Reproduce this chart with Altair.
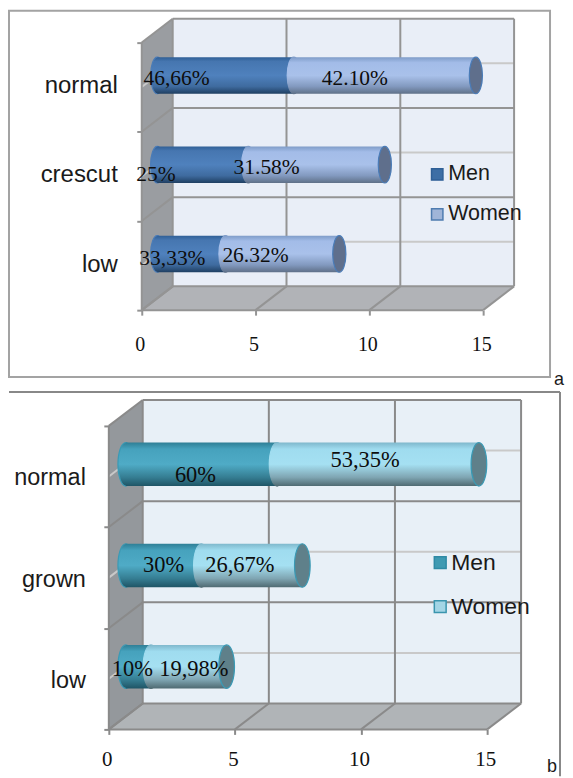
import altair as alt
import pandas as pd

# ---- values ----
series = ["Men", "Women"]
ticks = [0, 5, 10, 15]

cats_a = ["low", "crescut", "normal"]
men_a = [3, 4, 6]
women_a = [5, 6, 8]
men_lab_a = ["33,33%", "25%", "46,66%"]
women_lab_a = ["26.32%", "31.58%", "42.10%"]

cats_b = ["low", "grown", "normal"]
men_b = [1, 3, 6]
women_b = [3, 4, 8]
men_lab_b = ["10%", "30%", "60%"]
women_lab_b = ["19,98%", "26,67%", "53,35%"]


def grad(stops):
    return alt.LinearGradient(
        gradient="linear", x1=0, x2=0, y1=0, y2=1,
        stops=[alt.GradientStop(color=c, offset=o) for o, c in stops],
    )


ELLIPSE = ("M0,-1 C0.2,-1 0.36,-0.55 0.36,0 C0.36,0.55 0.2,1 0,1 "
           "C-0.2,1 -0.36,0.55 -0.36,0 C-0.36,-0.55 -0.2,-1 0,-1 Z")


def panel(cats, men, women, men_lab, women_lab, st):
    w, h = st["w"], st["h"]
    dxu, dyu = st["dxu"], st["dyu"]
    xs = alt.Scale(domain=[st["x_min"], 15 + dxu], nice=False, zero=False)
    ys = alt.Scale(domain=[0, 3 + dyu], nice=False, zero=False)
    xaxis = alt.Axis(
        values=ticks, grid=False, domain=False, tickSize=5, tickColor=st["line"],
        tickWidth=2, labelFont="Liberation Serif", labelFontSize=st["tick_fs"],
        labelColor="#111111", labelPadding=st["tick_pad"], labelAngle=0, title=None,
        labelFlush=False, labelOffset=-2)
    yaxis = alt.Axis(
        values=[0, 1, 2, 3], grid=False, domain=False, labels=False, tickSize=5,
        tickColor=st["line"], tickWidth=2, title=None, offset=st["y_axis_offset"])
    X = lambda f: alt.X(f, type="quantitative", scale=xs, axis=xaxis)
    Y = lambda f: alt.Y(f, type="quantitative", scale=ys, axis=yaxis)
    layers = []

    # walls
    layers.append(alt.Chart(pd.DataFrame({
        "x": [dxu, 15 + dxu], "y": [dyu, dyu], "y2": [3 + dyu, 3 + dyu]}))
        .mark_area(color=st["back"]).encode(x=X("x"), y=Y("y"), y2="y2"))
    layers.append(alt.Chart(pd.DataFrame({
        "x": [0, dxu], "y": [0, dyu], "y2": [3, 3 + dyu]}))
        .mark_area(color=st["side"]).encode(x=X("x"), y=Y("y"), y2="y2"))
    layers.append(alt.Chart(pd.DataFrame({
        "x": [0, dxu, 15, 15 + dxu], "y": [0, 0, 0, dyu], "y2": [0, dyu, dyu, dyu]}))
        .mark_area(color=st["floor"]).encode(x=X("x"), y=Y("y"), y2="y2"))

    # pale lines running behind the bars
    minor, major = [], []

    def seg(lst, x0, y0, x1, y1):
        k = len(lst)
        lst.append({"x": x0, "y": y0, "k": k, "o": 0})
        lst.append({"x": x1, "y": y1, "k": k, "o": 1})

    for i in range(3):
        seg(minor, dxu, i + .5 + dyu, 15 + dxu, i + .5 + dyu)
        seg(minor, 0, i + .5, dxu, i + .5 + dyu)
    for t in [0, 1, 2, 3]:
        seg(major, dxu, t + dyu, 15 + dxu, t + dyu)
        seg(major, 0, t, dxu, t + dyu)
    for v in ticks:
        seg(major, v + dxu, dyu, v + dxu, 3 + dyu)
        seg(major, v, 0, v + dxu, dyu)
    seg(major, 0, 0, 15, 0)
    seg(major, 0, 0, 0, 3)
    layers.append(alt.Chart(pd.DataFrame(minor)).mark_line(color=st["minor"], strokeWidth=2)
                  .encode(x=X("x"), y=Y("y"), detail="k:N", order="o:Q"))
    layers.append(alt.Chart(pd.DataFrame(major)).mark_line(color=st["line"], strokeWidth=st["lw"])
                  .encode(x=X("x"), y=Y("y"), detail="k:N", order="o:Q"))

    # bars
    bh = st["bar_h"]
    rows = []
    for i, (m, f) in enumerate(zip(men, women)):
        c = i + .5 + st["bar_off"]
        rows.append(dict(x0=st["bar_x"], xm=st["bar_x"] + m, xe=st["bar_x"] + m + f,
                         y=c, y0=c - bh, y1=c + bh))
    df = pd.DataFrame(rows)
    point_size = (2 * bh * h / (3 + dyu)) ** 2
    cyl = {"filled": True, "shape": ELLIPSE, "size": point_size, "opacity": 1,
           "strokeWidth": 1.2}
    layers.append(alt.Chart(df).mark_point(fill=st["men_g"], stroke=st["men_edge"], **cyl)
                  .encode(x=X("x0"), y=Y("y")))
    layers.append(alt.Chart(df).mark_rect(fill=st["men_g"])
                  .encode(x=X("x0"), x2="xm", y=Y("y0"), y2="y1"))
    layers.append(alt.Chart(df).mark_rect(fill=st["wom_g"])
                  .encode(x=X("xm"), x2="xe", y=Y("y0"), y2="y1"))
    layers.append(alt.Chart(df).mark_point(fill=st["wom_g"], stroke=st["wom_g"], **cyl)
                  .encode(x=X("xm"), y=Y("y")))
    layers.append(alt.Chart(df).mark_point(fill=st["cap"], stroke=st["men_edge"], **cyl)
                  .encode(x=X("xe"), y=Y("y")))

    # category names
    layers.append(alt.Chart(pd.DataFrame({"c": cats, "y": [i + .5 for i in range(3)]}))
                  .mark_text(font="Liberation Sans", fontSize=st["cat_fs"], align="right",
                             baseline="middle", color="#1a1a1a", dx=st["cat_x"], dy=st["cat_dy"])
                  .encode(x=alt.value(0), y=Y("y"), text="c:N"))

    # value labels: anchored on the segment middle, nudged as in the reference
    for i in range(3):
        c = i + .5 + st["bar_off"]
        m, f = men[i], women[i]
        for val, lab, nudge in [
            (st["bar_x"] + m / 2, men_lab[i], st["men_nudge"][i]),
            (st["bar_x"] + m + f / 2, women_lab[i], st["wom_nudge"][i]),
        ]:
            layers.append(alt.Chart(pd.DataFrame({"x": [val], "y": [c], "t": [lab]}))
                          .mark_text(font="Liberation Serif", fontSize=st["lab_fs"], color="#0d0d0d",
                                     baseline="middle", dx=nudge[0], dy=nudge[1])
                          .encode(x=X("x"), y=Y("y"), text="t:N"))

    # legend
    for name, fill, edge, ly in zip(series, st["leg_fill"], st["leg_edge"], st["leg_y"]):
        d = pd.DataFrame({"t": [name]})
        layers.append(alt.Chart(d).mark_square(size=st["leg_size"], color=fill, stroke=edge,
                                               strokeWidth=1.5, opacity=1)
                      .encode(x=alt.value(st["leg_x"]), y=alt.value(ly)))
        layers.append(alt.Chart(d).mark_text(font="Liberation Sans", fontSize=st["leg_fs"], align="left",
                                             baseline="middle", color="#1a1a1a")
                      .encode(x=alt.value(st["leg_x"] + 11), y=alt.value(ly), text="t:N"))

    # outer frame and panel letter
    fr = st["frame"]
    one = pd.DataFrame({"a": [0]})
    if st["closed"]:
        layers.append(alt.Chart(one).mark_rect(fillOpacity=0, stroke=st["frame_c"], strokeWidth=2)
                      .encode(x=alt.value(fr[0]), x2=alt.value(fr[1]), y=alt.value(fr[2]), y2=alt.value(fr[3])))
    else:
        layers.append(alt.Chart(one).mark_rule(color=st["frame_c"], strokeWidth=2)
                      .encode(x=alt.value(fr[0]), x2=alt.value(fr[1]), y=alt.value(fr[2])))
        layers.append(alt.Chart(one).mark_rule(color=st["frame_c"], strokeWidth=2)
                      .encode(x=alt.value(fr[1]), y=alt.value(fr[2]), y2=alt.value(fr[3])))
    layers.append(alt.Chart(pd.DataFrame({"t": [st["letter"]]}))
                  .mark_text(font="Liberation Sans", fontSize=18, align="left", baseline="alphabetic",
                             color="#1a1a1a")
                  .encode(x=alt.value(st["letter_xy"][0]), y=alt.value(st["letter_xy"][1]), text="t:N"))

    return alt.layer(*layers).properties(width=w, height=h)


# the two plot areas share a left edge, so panel a's starts 33 px left of its zero
style_a = dict(
    w=406, h=292, dxu=31 / 22.8, dyu=24 / 90, x_min=-33 / 22.8, y_axis_offset=-33,
    bar_x=15.5 / 22.8, bar_off=.13, bar_h=.205,
    back="#e9eef7", side="#9a9da1", floor="#b1b3b7", line="#949494", minor="#c9c9c9", lw=2,
    men_g=grad([(0, "#2f5f96"), (.12, "#4676b0"), (.5, "#4f81bd"), (.8, "#3f6b9f"), (1, "#1f3f62")]),
    wom_g=grad([(0, "#7f9cc8"), (.15, "#a3bce8"), (.5, "#a9c1ea"), (.8, "#8299bf"), (1, "#5f7088")]),
    men_edge="#4a7cb8", cap="#5f6f8c",
    cat_fs=24, cat_x=9, cat_dy=-1, tick_fs=20, tick_pad=19, lab_fs=21.5,
    men_nudge=[(-19, 5), (-47, 10), (-49, 4)], wom_nudge=[(-27, 2), (-50, 3), (-30, 4)],
    leg_x=329, leg_y=[156, 196], leg_size=130, leg_fs=21.5,
    leg_fill=["#3d6ea5", "#a0b5d8"], leg_edge=["#2f5f96", "#4f7cb0"],
    frame=(-100, 442, -8, 359), frame_c="#a3a3a3", closed=True, letter="a", letter_xy=(446, 367),
)
style_b = dict(
    w=413, h=330, dxu=34 / 25.3, dyu=26 / 101.67, x_min=0, y_axis_offset=0,
    bar_x=17 / 25.3, bar_off=.12, bar_h=.215,
    back="#e8f0f7", side="#94989c", floor="#b0b4b7", line="#8a8a8a", minor="#c9c9c9", lw=2,
    men_g=grad([(0, "#2f7f96"), (.15, "#46a2bd"), (.5, "#4fabc6"), (.8, "#357d92"), (1, "#1f5566")]),
    wom_g=grad([(0, "#7fb8cc"), (.15, "#9fdcef"), (.5, "#a5e0f2"), (.8, "#7fa5b2"), (1, "#4f6a72")]),
    men_edge="#3a9ab5", cap="#5f808a",
    cat_fs=23.5, cat_x=-23, cat_dy=2, tick_fs=21, tick_pad=14, lab_fs=22.5,
    men_nudge=[(-6, 2), (0, 0), (-6, 11)], wom_nudge=[(5, 2), (-12, 0), (-13, -4)],
    leg_x=332, leg_y=[163, 207], leg_size=140, leg_fs=23,
    leg_fill=["#3f9ab2", "#a3d5e5"], leg_edge=["#2f8aa5", "#3a95ae"],
    frame=(-100, 452, -8, 377), frame_c="#888888", closed=False, letter="b", letter_xy=(439, 373),
)

a = panel(cats_a, men_a, women_a, men_lab_a, women_lab_a, style_a)
b = panel(cats_b, men_b, women_b, men_lab_b, women_lab_b, style_b)

chart = (
    alt.vconcat(a, b, spacing=2)
    .properties(padding={"left": 0, "top": 1, "right": 0, "bottom": 0})
    .configure_view(stroke=None)
)
chart.save("out.html", embed_options={"renderer": "svg", "actions": False})
